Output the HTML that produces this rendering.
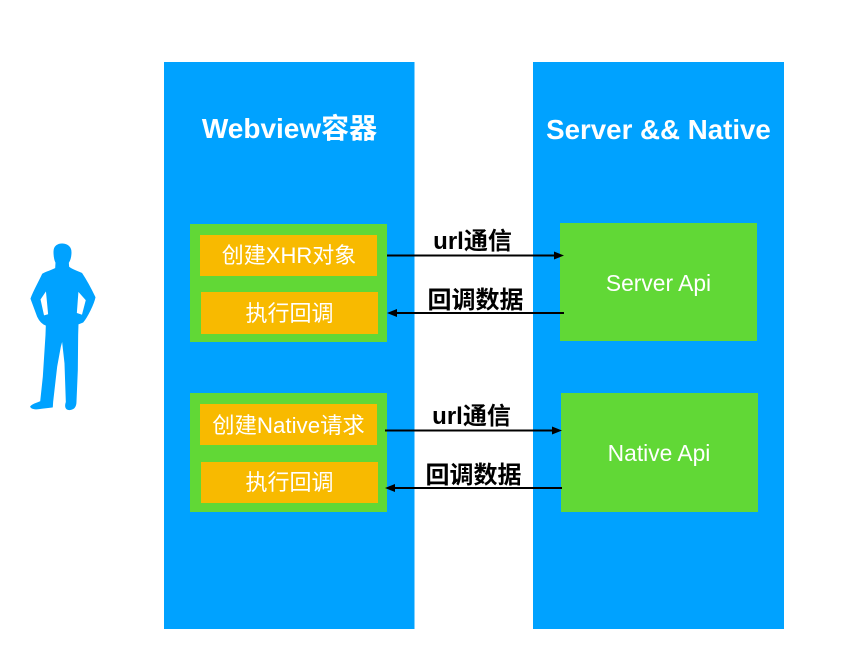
<!DOCTYPE html>
<html>
<head>
<meta charset="utf-8">
<style>
html,body{margin:0;padding:0;background:#fff;width:857px;height:659px;overflow:hidden}
svg{display:block}
text{font-family:"Liberation Sans","Noto Sans CJK SC",sans-serif;text-anchor:middle}
.t{font-size:28px;font-weight:700;fill:#fff}
.t2{font-size:27.7px;font-weight:700;fill:#fff}
.o{font-size:22px;fill:#fff}
.n{font-size:22.300px;fill:#fff}
.g{font-size:22.800px;fill:#fff}
.k{font-size:24px;font-weight:700;fill:#000}
.l{stroke:#000;stroke-width:2;fill:none}
</style>
</head>
<body>
<svg width="857" height="659" viewBox="0 0 857 659" xmlns="http://www.w3.org/2000/svg">
<rect x="0" y="0" width="857" height="659" fill="#fff"/>
<rect x="164" y="62" width="250.500" height="567" fill="#00a2ff"/>
<rect x="533" y="62" width="251" height="567" fill="#00a2ff"/>
<text class="t" x="289.500" y="138">Webview容器</text>
<text class="t2" x="658.500" y="139">Server &amp;&amp; Native</text>

<rect x="190" y="224" width="197" height="118" fill="#61d836"/>
<rect x="200" y="235" width="177" height="41" fill="#f8ba00"/>
<rect x="201" y="292" width="177" height="42" fill="#f8ba00"/>
<text class="o" x="289" y="263">创建XHR对象</text>
<text class="o" x="289.500" y="321">执行回调</text>

<rect x="190" y="393" width="197" height="119" fill="#61d836"/>
<rect x="200" y="404" width="177" height="41" fill="#f8ba00"/>
<rect x="201" y="462" width="177" height="41" fill="#f8ba00"/>
<text class="n" x="288.500" y="433">创建Native请求</text>
<text class="o" x="289.500" y="490">执行回调</text>

<rect x="560" y="223" width="197" height="118" fill="#61d836"/>
<rect x="561" y="393" width="197" height="119" fill="#61d836"/>
<text class="g" x="658.500" y="291">Server Api</text>
<text class="g" x="659" y="461">Native Api</text>

<line class="l" x1="387" y1="255.500" x2="555" y2="255.500"/>
<polygon points="564,255.500 554,251.500 554,259.500" fill="#000"/>
<line class="l" x1="564" y1="313" x2="396" y2="313"/>
<polygon points="387,313 397,309 397,317" fill="#000"/>
<line class="l" x1="385" y1="430.500" x2="553" y2="430.500"/>
<polygon points="562,430.500 552,426.500 552,434.500" fill="#000"/>
<line class="l" x1="562" y1="488" x2="394" y2="488"/>
<polygon points="385,488 395,484 395,492" fill="#000"/>

<text class="k" x="472.500" y="249">url通信</text>
<text class="k" x="475.500" y="308">回调数据</text>
<text class="k" x="471.500" y="424">url通信</text>
<text class="k" x="473.500" y="483">回调数据</text>

<g transform="translate(0,220) scale(0.3333)">
<path fill="#00a2ff" stroke="#00a2ff" stroke-width="3" stroke-linejoin="round" d="M162 95 C162 78 175 71 188 72 C203 73 213 82 213 97 C213 110 209 122 205 128 L206 141 C214 149 230 153 245 160 C255 175 272 205 285 232 C281 252 262 290 249 306 L234 312 L233 345 L232 450 L228 545 C228 558 224 568 208 569 C196 568 195 558 199 546 L195 430 L187 358 L181 380 L170 440 L158 545 L157 561 L125 565 C110 568 94 567 92 560 C96 553 112 549 122 545 L130 470 L138 345 L139 316 C128 312 120 305 113 290 L93 236 C100 215 115 190 128 162 C140 155 155 152 167 145 L168 128 C163 118 162 106 162 95 Z M120 238 L131 288 L146 284 L139 210 Z M234 212 L229 280 L247 286 L259 240 Z" fill-rule="evenodd"/>
</g>
</svg>
</body>
</html>
